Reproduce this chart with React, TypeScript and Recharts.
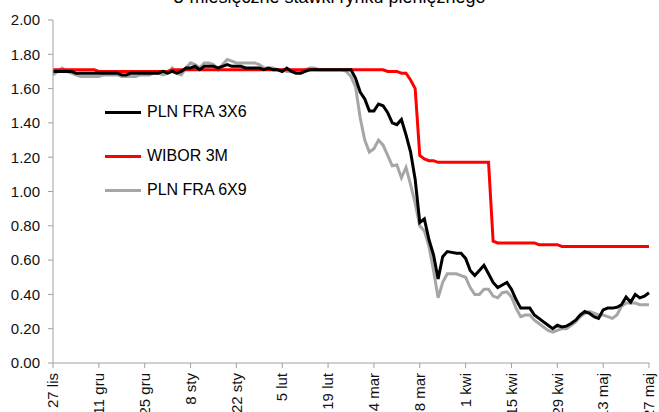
import React from 'react';
import { LineChart, Line, XAxis, YAxis } from 'recharts';

const tickLabels = [
  '27 lis', '11 gru', '25 gru', '8 sty', '22 sty', '5 lut', '19 lut',
  '4 mar', '18 mar', '1 kwi', '15 kwi', '29 kwi', '13 maj', '27 maj',
];

// daily quotes, business days from 27 lis to 27 maj
const fra3x6 = [
  1.70, 1.70, 1.70, 1.70, 1.70, 1.69, 1.69, 1.69, 1.69, 1.69,
  1.69, 1.69, 1.69, 1.69, 1.69, 1.68, 1.68, 1.69, 1.69, 1.69,
  1.69, 1.69, 1.69, 1.69, 1.70, 1.69, 1.70, 1.69, 1.70, 1.72,
  1.72, 1.73, 1.71, 1.73, 1.73, 1.73, 1.72, 1.73, 1.74, 1.73,
  1.73, 1.73, 1.72, 1.72, 1.72, 1.72, 1.71, 1.72, 1.71, 1.71,
  1.70, 1.72, 1.70, 1.69, 1.69, 1.70, 1.71, 1.71, 1.71, 1.71,
  1.71, 1.71, 1.71, 1.71, 1.71, 1.71, 1.66, 1.58, 1.54, 1.47,
  1.47, 1.51, 1.50, 1.46, 1.40, 1.39, 1.42, 1.33, 1.23, 1.07,
  0.82, 0.84, 0.72, 0.63, 0.49, 0.62, 0.65, 0.645, 0.64, 0.64,
  0.61, 0.54, 0.51, 0.54, 0.57, 0.52, 0.47, 0.44, 0.455, 0.47,
  0.43, 0.37, 0.32, 0.32, 0.32, 0.28, 0.26, 0.24, 0.22, 0.20,
  0.22, 0.21, 0.215, 0.23, 0.25, 0.28, 0.30, 0.29, 0.27, 0.26,
  0.31, 0.32, 0.32, 0.325, 0.34, 0.385, 0.355, 0.40, 0.38, 0.39,
  0.41,
];

const wibor3m = [
  1.71, 1.71, 1.71, 1.71, 1.71, 1.71, 1.71, 1.71, 1.71, 1.71,
  1.70, 1.70, 1.70, 1.70, 1.70, 1.70, 1.70, 1.70, 1.70, 1.70,
  1.70, 1.70, 1.70, 1.70, 1.70, 1.70, 1.71, 1.71, 1.71, 1.71,
  1.71, 1.71, 1.71, 1.71, 1.71, 1.71, 1.71, 1.71, 1.71, 1.71,
  1.71, 1.71, 1.71, 1.71, 1.71, 1.71, 1.71, 1.71, 1.71, 1.71,
  1.71, 1.71, 1.71, 1.71, 1.71, 1.71, 1.71, 1.71, 1.71, 1.71,
  1.71, 1.71, 1.71, 1.71, 1.71, 1.71, 1.71, 1.71, 1.71, 1.71,
  1.71, 1.71, 1.71, 1.70, 1.70, 1.70, 1.69, 1.69, 1.65, 1.60,
  1.21, 1.19, 1.18, 1.18, 1.17, 1.17, 1.17, 1.17, 1.17, 1.17,
  1.17, 1.17, 1.17, 1.17, 1.17, 1.17, 0.71, 0.70, 0.70, 0.70,
  0.70, 0.70, 0.70, 0.70, 0.70, 0.70, 0.69, 0.69, 0.69, 0.69,
  0.69, 0.68, 0.68, 0.68, 0.68, 0.68, 0.68, 0.68, 0.68, 0.68,
  0.68, 0.68, 0.68, 0.68, 0.68, 0.68, 0.68, 0.68, 0.68, 0.68,
  0.68,
];

const fra6x9 = [
  1.68, 1.70, 1.72, 1.70, 1.69, 1.68, 1.67, 1.67, 1.67, 1.67,
  1.67, 1.68, 1.68, 1.68, 1.68, 1.67, 1.67, 1.67, 1.67, 1.68,
  1.68, 1.68, 1.69, 1.69, 1.68, 1.69, 1.72, 1.69, 1.68, 1.72,
  1.75, 1.74, 1.72, 1.75, 1.75, 1.74, 1.71, 1.74, 1.77, 1.76,
  1.75, 1.75, 1.75, 1.75, 1.75, 1.74, 1.72, 1.72, 1.72, 1.71,
  1.71, 1.70, 1.70, 1.70, 1.69, 1.71, 1.72, 1.72, 1.71, 1.71,
  1.71, 1.71, 1.71, 1.71, 1.70, 1.67, 1.61, 1.43, 1.30, 1.23,
  1.25, 1.30, 1.27, 1.21, 1.15, 1.155, 1.08, 1.14, 1.04, 0.93,
  0.80, 0.77, 0.68, 0.54, 0.38, 0.47, 0.52, 0.52, 0.52, 0.51,
  0.50, 0.44, 0.40, 0.40, 0.43, 0.43, 0.39, 0.38, 0.41, 0.415,
  0.385, 0.32, 0.27, 0.28, 0.28, 0.25, 0.23, 0.21, 0.19, 0.18,
  0.19, 0.20, 0.20, 0.22, 0.24, 0.27, 0.29, 0.30, 0.29, 0.28,
  0.28, 0.27, 0.26, 0.28, 0.33, 0.35, 0.35, 0.35, 0.34, 0.34,
  0.34,
];

const yTicks = [0, 0.2, 0.4, 0.6, 0.8, 1.0, 1.2, 1.4, 1.6, 1.8, 2.0];

const data = fra3x6.map((v, i) => ({
  i,
  fra3x6: v,
  wibor3m: wibor3m[i],
  fra6x9: fra6x9[i],
}));

const xTicks = tickLabels.map((_, k) => k * 10);

const font = '"Liberation Sans", Arial, sans-serif';
const axisColor = '#a0a0a0';

function DateTick({ x, y, payload }: any) {
  const label = tickLabels[Math.round(payload.value / 10)];
  return (
    <text
      x={x}
      y={y}
      transform={`rotate(-90 ${x} ${y})`}
      textAnchor="end"
      dy="0.35em"
      fontSize={15}
      fontFamily={font}
      fill="#111"
    >
      {label}
    </text>
  );
}

const legendItems = [
  { name: 'PLN FRA 3X6', color: '#000000' },
  { name: 'WIBOR 3M', color: '#ff0000' },
  { name: 'PLN FRA 6X9', color: '#a6a6a6' },
];

function LegendBox() {
  return (
    <div
      style={{
        position: 'absolute',
        left: 105,
        top: 102,
        fontFamily: font,
        fontSize: 16,
        color: '#000',
      }}
    >
      {legendItems.map((it, k) => (
        <div
          key={it.name}
          style={{
            display: 'flex',
            alignItems: 'center',
            height: 20,
            marginBottom: k === 0 ? 24 : 14,
          }}
        >
          <span
            style={{
              display: 'inline-block',
              width: 36,
              height: 3,
              background: it.color,
              marginRight: 6,
            }}
          />
          {it.name}
        </div>
      ))}
    </div>
  );
}

export default function App() {
  return (
    <div
      style={{
        position: 'absolute',
        left: 0,
        top: 0,
        width: 659,
        height: 412,
        overflow: 'hidden',
        background: '#fff',
      }}
    >
      <div
        style={{
          position: 'absolute',
          top: -12,
          left: 0,
          width: 659,
          textAlign: 'center',
          fontFamily: font,
          fontSize: 18,
          lineHeight: '18px',
          color: '#000',
        }}
      >
        3-miesięczne stawki rynku pieniężnego
      </div>
      <LineChart
        width={659}
        height={412}
        data={data}
        margin={{ top: 20, right: 10, left: 0, bottom: 0 }}
      >
        <XAxis
          dataKey="i"
          type="number"
          domain={[0, 130]}
          ticks={xTicks}
          interval={0}
          height={49}
          tickSize={5}
          tickMargin={5}
          stroke={axisColor}
          tick={<DateTick />}
        />
        <YAxis
          domain={[0, 2]}
          ticks={yTicks}
          width={53}
          tickSize={5}
          tickMargin={8}
          stroke={axisColor}
          tick={{ fill: '#111', fontSize: 15, fontFamily: font }}
          tickFormatter={(v: number) => v.toFixed(2)}
        />
        <Line
          dataKey="fra6x9"
          stroke="#a6a6a6"
          strokeWidth={3}
          dot={false}
          isAnimationActive={false}
        />
        <Line
          dataKey="wibor3m"
          stroke="#ff0000"
          strokeWidth={3}
          dot={false}
          isAnimationActive={false}
        />
        <Line
          dataKey="fra3x6"
          stroke="#000000"
          strokeWidth={3}
          dot={false}
          isAnimationActive={false}
        />
      </LineChart>
      <LegendBox />
    </div>
  );
}
